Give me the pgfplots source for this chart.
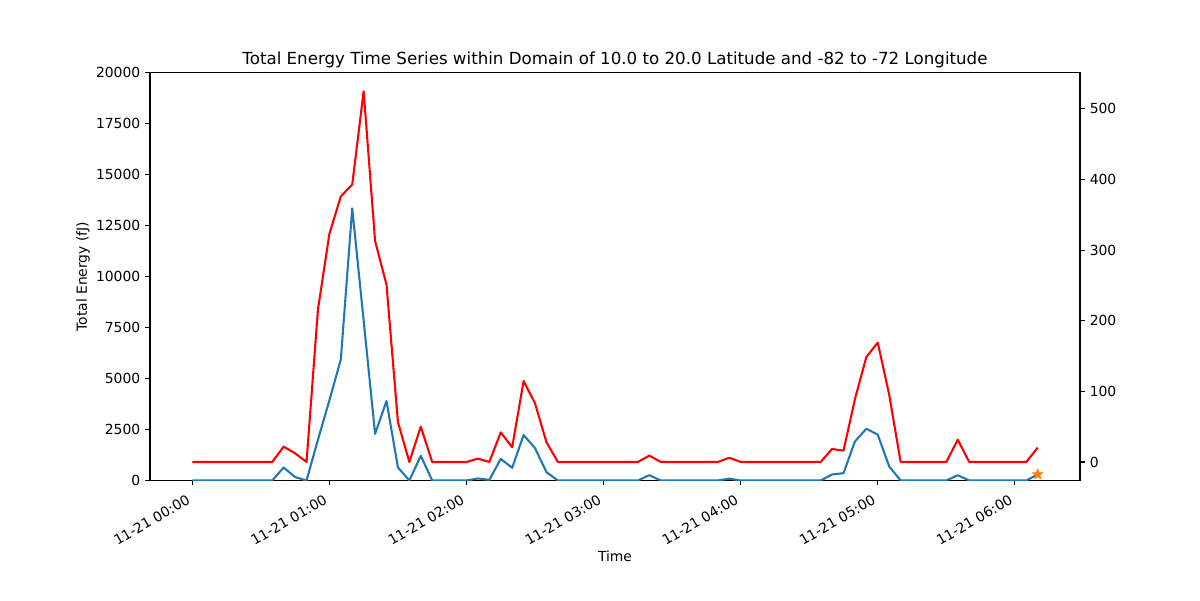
\documentclass[border=0pt]{standalone}
\usepackage{fontspec}
\setmainfont{DejaVu Sans}
\usepackage{pgfplots}
\pgfplotsset{compat=1.18}
\usepackage{pgfplotstable}
\definecolor{mblue}{HTML}{1F77B4}
\definecolor{morange}{HTML}{FF7F0E}
\pgfdeclareplotmark{fstar}{%
  \pgfpathmoveto{\pgfpointpolar{90}{\pgfplotmarksize}}%
  \pgfpathlineto{\pgfpointpolar{126}{0.42\pgfplotmarksize}}%
  \pgfpathlineto{\pgfpointpolar{162}{\pgfplotmarksize}}%
  \pgfpathlineto{\pgfpointpolar{198}{0.42\pgfplotmarksize}}%
  \pgfpathlineto{\pgfpointpolar{234}{\pgfplotmarksize}}%
  \pgfpathlineto{\pgfpointpolar{270}{0.42\pgfplotmarksize}}%
  \pgfpathlineto{\pgfpointpolar{306}{\pgfplotmarksize}}%
  \pgfpathlineto{\pgfpointpolar{342}{0.42\pgfplotmarksize}}%
  \pgfpathlineto{\pgfpointpolar{18}{\pgfplotmarksize}}%
  \pgfpathlineto{\pgfpointpolar{54}{0.42\pgfplotmarksize}}%
  \pgfpathclose\pgfusepathqfillstroke}
% i = 5-minute step from 11-21 00:00
\pgfplotstableread{
i blue red
0 0 0
1 0 0
2 0 0
3 0 0
4 0 0
5 0 0
6 0 0
7 0 0
8 640 21.7
9 165 12.3
10 0 0
11 2000 216
12 3930 323
13 5930 376
14 13350 393
15 7850 525
16 2290 313
17 3900 251
18 640 56.7
19 0 0
20 1210 50
21 0 0
22 0 0
23 0 0
24 0 0
25 100 4.7
26 30 0
27 1060 42
28 620 20.8
29 2230 114.7
30 1590 83
31 410 27.9
32 0 0
33 0 0
34 0 0
35 0 0
36 0 0
37 0 0
38 0 0
39 0 0
40 260 9
41 0 0
42 0 0
43 0 0
44 0 0
45 0 0
46 0 0
47 90 6
48 0 0
49 0 0
50 0 0
51 0 0
52 0 0
53 0 0
54 0 0
55 0 0
56 295 18.4
57 360 16
58 1915 89
59 2540 148.7
60 2245 169
61 690 95
62 0 0
63 0 0
64 0 0
65 0 0
66 0 0
67 260 31.6
68 0 0
69 0 0
70 0 0
71 0 0
72 0 0
73 0 0
74 300 20.4
}\datatable
\begin{document}
\begin{tikzpicture}
\useasboundingbox (0,0) rectangle (864pt,432pt);
\pgfplotsset{
  common/.style={
    at={(108pt,86.04pt)}, anchor=south west,
    scale only axis, width=669.6pt, height=293.6pt,
    xmin=-3.7, xmax=77.7,
    axis line style={line width=0.8pt},
    tick style={line width=0.8pt, black},
    major tick length=3.5pt,
    tick align=outside,
    /pgf/number format/assume math mode=true,
    /pgf/number format/1000 sep={},
    tick label style={font=\fontsize{10}{12}\selectfont},
    clip=true,
  }
}
\begin{axis}[common,
  xtick pos=bottom, ytick pos=left,
  ymin=0, ymax=20000,
  ytick={0,2500,5000,7500,10000,12500,15000,17500,20000},
  scaled y ticks=false,
  yticklabel style={/pgf/number format/fixed},
  xtick={0,12,24,36,48,60,72},
  xticklabels={11-21 00:00,11-21 01:00,11-21 02:00,11-21 03:00,11-21 04:00,11-21 05:00,11-21 06:00},
  xticklabel style={rotate=30, anchor=north east, inner sep=1pt, xshift=-6pt, yshift=-2pt},
  xlabel={Time},
  xlabel style={at={(axis description cs:0.5,-0.185)}, anchor=center, font=\fontsize{10}{12}\selectfont},
  ylabel={Total Energy (fJ)},
  ylabel style={at={(axis description cs:-0.072,0.5)}, anchor=center, rotate=0, font=\fontsize{10}{12}\selectfont},
  title={Total Energy Time Series within Domain of 10.0 to 20.0 Latitude and -82 to -72 Longitude},
  title style={at={(axis description cs:0.5,1)}, anchor=base, yshift=0pt, inner sep=0pt, font=\fontsize{12}{14}\selectfont},
]
\addplot[mblue, line width=1.5pt, line join=round, no markers] table[x=i, y=blue] {\datatable};
\addplot[morange, draw=morange, fill=morange, only marks, mark=fstar, mark size=4pt, line width=0.4pt] coordinates {(74,300)};
\end{axis}
\begin{axis}[common,
  axis x line=none,
  axis y line*=right,
  ymin=-26.25, ymax=551.25,
  ytick={0,100,200,300,400,500},
]
\addplot[red, line width=1.5pt, line join=round, no markers] table[x=i, y=red] {\datatable};
\end{axis}
\end{tikzpicture}
\end{document}
